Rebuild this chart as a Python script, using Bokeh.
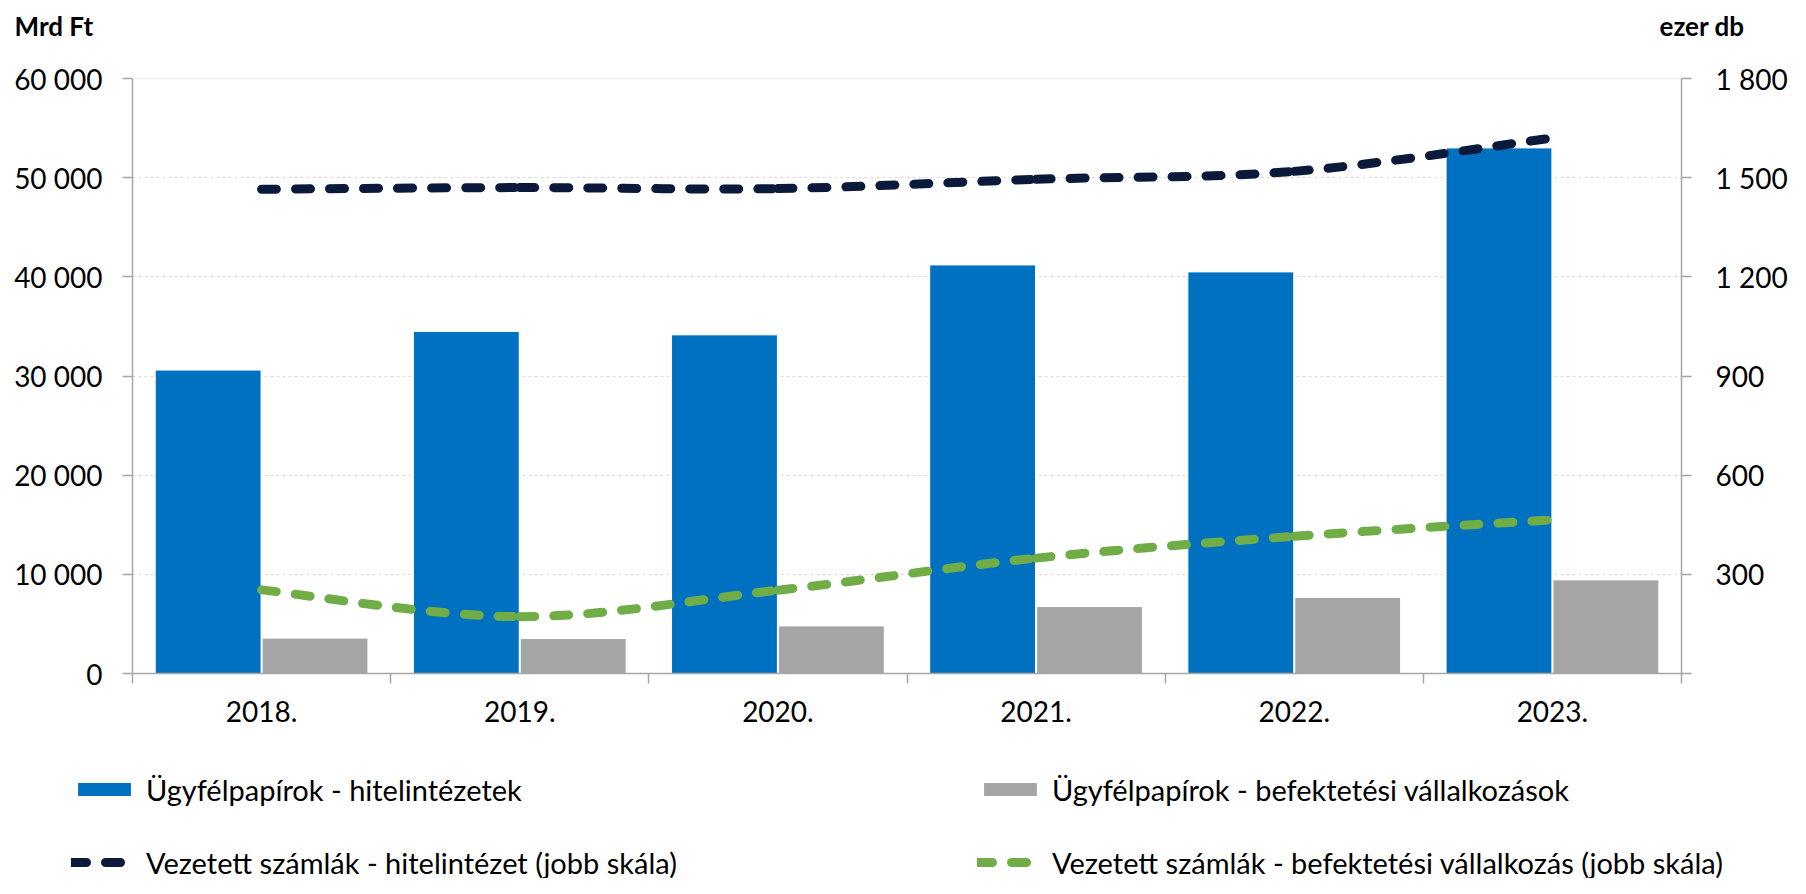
from bokeh.plotting import figure
from bokeh.layouts import column
from bokeh.models import (Range1d, LinearAxis, FixedTicker, ColumnDataSource,
                          Legend, LegendItem, Label, Span)
from bokeh.embed import file_html
from bokeh.resources import INLINE

# ---------------- data ----------------
years = ["2018.", "2019.", "2020.", "2021.", "2022.", "2023."]
bank_securities = [30600, 34500, 34150, 41200, 40500, 53000]      # Mrd Ft
invest_securities = [3570, 3530, 4800, 6750, 7660, 9440]          # Mrd Ft
bank_accounts = [1465, 1470, 1467, 1495, 1519, 1620]              # ezer db
invest_accounts = [253, 172, 252, 349, 415, 465]                  # ezer db
left_ticks = [0, 10000, 20000, 30000, 40000, 50000, 60000]
right_ticks = [0, 300, 600, 900, 1200, 1500, 1800]
series_names = ["Ügyfélpapírok - hitelintézetek",
                "Ügyfélpapírok - befektetési vállalkozások",
                "Vezetett számlák - hitelintézet (jobb skála)",
                "Vezetett számlák - befektetési vállalkozás (jobb skála)"]
left_unit = "Mrd Ft"
right_unit = "ezer db"

FONT = "Lato"
TICK_FS = "28px"
BLUE = "#0070C0"
GRAY = "#A5A5A5"
NAVY = "#0B1A3A"
GREEN = "#70AD47"
AXIS = "#A6A6A6"
W = 1790
LINE_W = 9
DASH = "15 19"
NAN = float("nan")


def fmt(v):
    return f"{v:,}".replace(",", " ")


def bare(fig):
    fig.outline_line_color = None
    fig.background_fill_color = "white"
    fig.border_fill_color = "white"
    fig.frame_align = False
    return fig


n = len(years)
centers = [i + 0.5 for i in range(n)]
bar_w = 0.41
off = 0.207

# ---------------- header (unit labels) ----------------
HDR_H = 50
hdr = bare(figure(width=W, height=HDR_H, output_backend="svg", toolbar_location=None,
                  x_range=Range1d(0, W), y_range=Range1d(0, HDR_H),
                  x_axis_type=None, y_axis_type=None, min_border=0))
hdr.add_layout(Label(x=14, y=HDR_H - 25, text=left_unit, text_font=FONT,
                     text_font_size="26px", text_font_style="bold",
                     text_baseline="middle", text_align="left", text_color="#000000"))
hdr.add_layout(Label(x=1744, y=HDR_H - 25, text=right_unit, text_font=FONT,
                     text_font_size="26px", text_font_style="bold",
                     text_baseline="middle", text_align="right", text_color="#000000"))

# ---------------- main chart ----------------
CH_H = 700
p = bare(figure(width=W, height=CH_H, output_backend="svg", toolbar_location=None,
                x_range=Range1d(0, n), y_range=Range1d(left_ticks[0], left_ticks[-1]),
                min_border_left=132, min_border_right=W - 1683, min_border_top=28,
                min_border_bottom=77))
p.extra_y_ranges = {"right": Range1d(right_ticks[0], right_ticks[-1])}

src = ColumnDataSource(dict(
    xb=[c - off for c in centers], xg=[c + off for c in centers],
    b=bank_securities, g=invest_securities))

p.vbar(x="xb", top="b", width=bar_w, source=src, fill_color=BLUE,
       line_color="white", line_width=1)
p.vbar(x="xg", top="g", width=bar_w, source=src, fill_color=GRAY,
       line_color="white", line_width=1)


def smooth_segments(xs, ys):
    x0, y0, x1, y1, cx0, cy0, cx1, cy1 = [], [], [], [], [], [], [], []
    m = len(xs)
    for i in range(m - 1):
        xa, ya = xs[max(i - 1, 0)], ys[max(i - 1, 0)]
        xb_, yb_ = xs[i], ys[i]
        xc, yc = xs[i + 1], ys[i + 1]
        xd, yd = xs[min(i + 2, m - 1)], ys[min(i + 2, m - 1)]
        x0.append(xb_); y0.append(yb_); x1.append(xc); y1.append(yc)
        cx0.append(xb_ + (xc - xa) / 6); cy0.append(yb_ + (yc - ya) / 6)
        cx1.append(xc - (xd - xb_) / 6); cy1.append(yc - (yd - yb_) / 6)
    return dict(x0=x0, y0=y0, x1=x1, y1=y1, cx0=cx0, cy0=cy0, cx1=cx1, cy1=cy1)


for ys, col in [(bank_accounts, NAVY), (invest_accounts, GREEN)]:
    p.bezier(source=ColumnDataSource(smooth_segments(centers, ys)),
             x0="x0", y0="y0", x1="x1", y1="y1", cx0="cx0", cy0="cy0",
             cx1="cx1", cy1="cy1", line_color=col, line_width=LINE_W,
             line_dash=DASH, line_cap="round", y_range_name="right")

p.xgrid.visible = False
p.ygrid.grid_line_color = "#D9D9D9"
p.ygrid.grid_line_dash = "3 3"
p.ygrid.grid_line_width = 1
p.add_layout(Span(location=left_ticks[-1], dimension="width",
                  line_color="#D9D9D9", line_width=1))


def style_axis(ax):
    ax.axis_line_color = AXIS
    ax.axis_line_width = 1.5
    ax.major_tick_line_color = AXIS
    ax.major_tick_line_width = 1.5
    ax.major_label_text_font = FONT
    ax.major_label_text_font_size = TICK_FS
    ax.major_label_text_color = "#000000"


yl = p.yaxis[0]
yl.ticker = FixedTicker(ticks=left_ticks)
yl.major_label_overrides = {v: fmt(v) for v in left_ticks}
yl.minor_tick_line_color = None
yl.major_tick_out = 10
yl.major_tick_in = 0
yl.major_label_standoff = 20
style_axis(yl)

yr = LinearAxis(y_range_name="right", ticker=FixedTicker(ticks=right_ticks))
yr.major_label_overrides = {v: (fmt(v) if v else "") for v in right_ticks}
yr.minor_tick_line_color = None
yr.major_tick_out = 10
yr.major_tick_in = 0
yr.major_label_standoff = 24
style_axis(yr)
p.add_layout(yr, "right")

xa = p.xaxis[0]
xa.ticker = FixedTicker(ticks=centers, minor_ticks=list(range(n + 1)))
xa.major_label_overrides = {c: y for c, y in zip(centers, years)}
xa.major_tick_out = 0
xa.major_tick_in = 0
xa.minor_tick_out = 10
xa.minor_tick_in = 0
xa.minor_tick_line_color = AXIS
xa.minor_tick_line_width = 1.5
xa.major_label_standoff = 17
style_axis(xa)

# ---------------- legend ----------------
LG_H = 878 - HDR_H - CH_H
lg = bare(figure(width=W, height=LG_H, output_backend="svg", toolbar_location=None,
                 x_range=Range1d(0, 1), y_range=Range1d(0, 1),
                 x_axis_type=None, y_axis_type=None, min_border=0))
# placeholder renderers (no visible marks) that only provide legend swatches
lr_blue = lg.vbar(x=[NAN], top=[NAN], width=0.1, fill_color=BLUE, line_color=None)
lr_gray = lg.vbar(x=[NAN], top=[NAN], width=0.1, fill_color=GRAY, line_color=None)
lr_navy = lg.line(x=[NAN, NAN], y=[NAN, NAN], line_color=NAVY, line_width=LINE_W,
                  line_dash=DASH, line_cap="round")
lr_green = lg.line(x=[NAN, NAN], y=[NAN, NAN], line_color=GREEN, line_width=LINE_W,
                   line_dash=DASH, line_cap="round")

item_h = 31
row_pitch = 69
sp = row_pitch - item_h
leg_h = 2 * item_h + sp
glyph_w = 66
standoff = 146 - 71 - glyph_w
top_from_lg = 795 - item_h / 2 - (HDR_H + CH_H)
legend = Legend(items=[LegendItem(label=series_names[0], renderers=[lr_blue]),
                       LegendItem(label=series_names[1], renderers=[lr_gray]),
                       LegendItem(label=series_names[2], renderers=[lr_navy]),
                       LegendItem(label=series_names[3], renderers=[lr_green])],
                location=(71, LG_H - top_from_lg - leg_h),
                orientation="horizontal", ncols=2,
                glyph_width=glyph_w, glyph_height=16, label_height=16,
                label_width=977 - 71 - glyph_w - standoff - sp,
                label_standoff=standoff, spacing=sp, padding=0, margin=0,
                border_line_color=None, background_fill_alpha=0,
                label_text_font=FONT, label_text_font_size="29px",
                label_text_color="#000000")
lg.add_layout(legend, "center")

layout = column(hdr, p, lg, spacing=0)
open("out.html", "w").write(file_html(layout, INLINE))
